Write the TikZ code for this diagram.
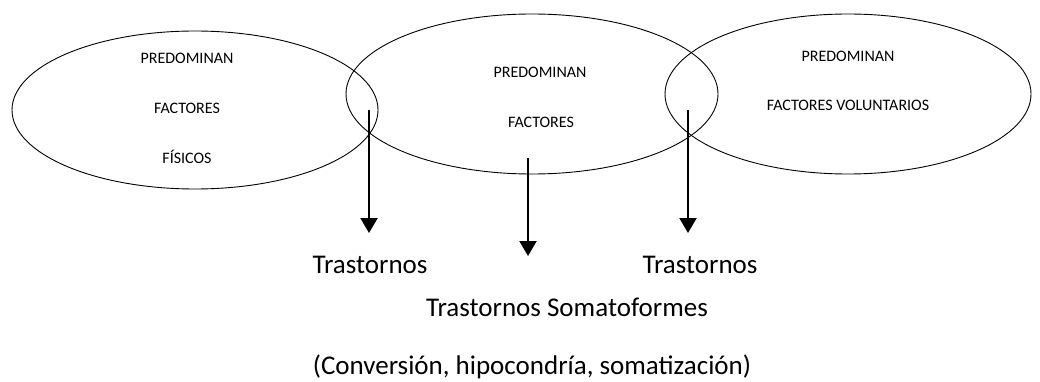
\documentclass[tikz,border=0pt]{standalone}
\usepackage{fontspec}
\setmainfont{Carlito}
\usetikzlibrary{arrows.meta}
\tikzset{
  oval/.style={draw, line width=0.9pt},
  small/.style={font=\fontsize{16}{19}\selectfont, inner sep=0pt, anchor=center},
  big/.style={font=\fontsize{27}{32}\selectfont, inner sep=0pt, anchor=center},
  down/.style={line width=2.2pt, -{Triangle[width=17pt,length=15pt]}}
}
\begin{document}
\begin{tikzpicture}[x=1pt,y=-1pt]
\useasboundingbox (0,0) rectangle (1040,382);
% ellipses
\draw[oval] (195,110) ellipse [x radius=183, y radius=79];
\draw[oval] (532,94) ellipse [x radius=186, y radius=80];
\draw[oval] (848,94) ellipse [x radius=183, y radius=80];
% ellipse texts
\node[small] (l1) at (187,58) {PREDOMINAN};
\node[small] (l2) at (187,108) {FACTORES};
\node[small] (l3) at (187,157) {FÍSICOS};
\node[small] (m1) at (540,72) {PREDOMINAN};
\node[small] (m2) at (541,122) {FACTORES};
\node[small] (r1) at (848,56) {PREDOMINAN};
\node[small] (r2) at (848,105) {FACTORES VOLUNTARIOS};
% bottom texts
\node[big] (t1) at (370,265) {Trastornos};
\node[big] (t2) at (700,265) {Trastornos};
\node[big] (t3) at (567,307) {Trastornos Somatoformes};
\node[big] (t4) at (532,367) {(Conversión, hipocondría, somatización)};
% arrows
\coordinate (a1s) at (369,110);
\coordinate (a1e) at (369,233);
\coordinate (a2s) at (528,158);
\coordinate (a2e) at (528,256);
\coordinate (a3s) at (688,110);
\coordinate (a3e) at (688,233);
\draw[down] (a1s) -- (a1e);
\draw[down] (a2s) -- (a2e);
\draw[down] (a3s) -- (a3e);
\end{tikzpicture}
\end{document}
